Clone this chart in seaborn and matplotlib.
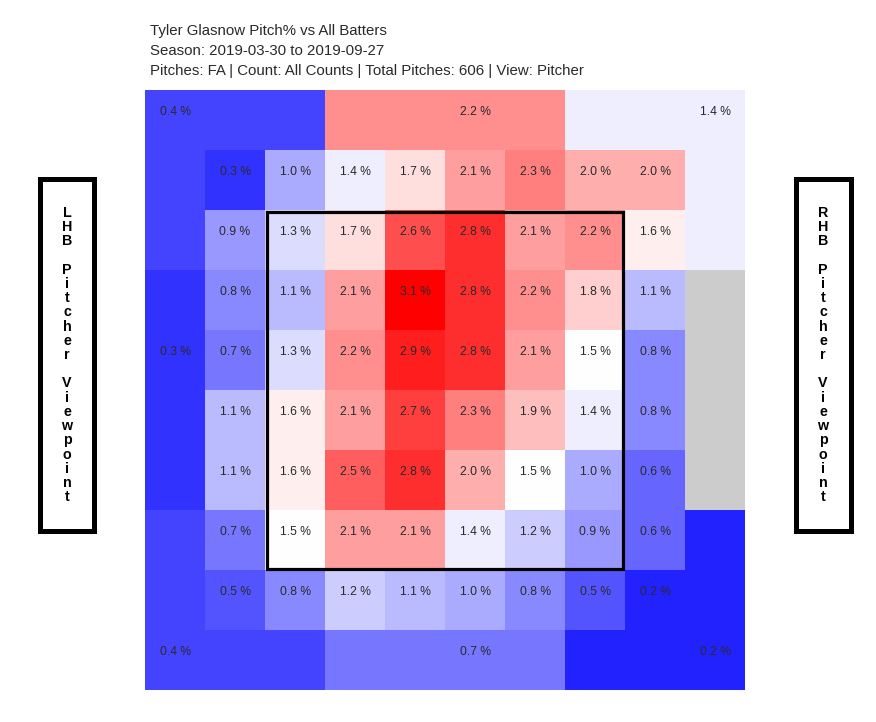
import numpy as np
import pandas as pd
import matplotlib
matplotlib.use("Agg")
import matplotlib.pyplot as plt
from matplotlib.colors import TwoSlopeNorm
from matplotlib.patches import Rectangle
import seaborn as sns

# pitch% per zone, inner 8x8 grid (top row first, pitcher view)
inner_pct = [
    [0.3, 1.0, 1.4, 1.7, 2.1, 2.3, 2.0, 2.0],
    [0.9, 1.3, 1.7, 2.6, 2.8, 2.1, 2.2, 1.6],
    [0.8, 1.1, 2.1, 3.1, 2.8, 2.2, 1.8, 1.1],
    [0.7, 1.3, 2.2, 2.9, 2.8, 2.1, 1.5, 0.8],
    [1.1, 1.6, 2.1, 2.7, 2.3, 1.9, 1.4, 0.8],
    [1.1, 1.6, 2.5, 2.8, 2.0, 1.5, 1.0, 0.6],
    [0.7, 1.5, 2.1, 2.1, 1.4, 1.2, 0.9, 0.6],
    [0.5, 0.8, 1.2, 1.1, 1.0, 0.8, 0.5, 0.2],
]

# the big outer zones (right middle has no value)
outer_names = ["top_left", "top_mid", "top_right", "left_mid",
               "right_mid", "bottom_left", "bottom_mid", "bottom_right"]
outer_pct = [0.4, 2.2, 1.4, 0.3, np.nan, 0.4, 0.7, 0.2]

title_lines = [
    "Tyler Glasnow Pitch% vs All Batters",
    "Season: 2019-03-30 to 2019-09-27",
    "Pitches: FA | Count: All Counts | Total Pitches: 606 | View: Pitcher",
]
left_side = "LHB Pitcher Viewpoint"
right_side = "RHB Pitcher Viewpoint"

outer = dict(zip(outer_names, outer_pct))

# build the 10x10 grid, outer zones fill the ring
grid = np.full((10, 10), np.nan)
grid[1:9, 1:9] = np.array(inner_pct)
grid[0, 0:3] = outer["top_left"]
grid[0:3, 0] = outer["top_left"]
grid[0, 3:7] = outer["top_mid"]
grid[0, 7:10] = outer["top_right"]
grid[0:3, 9] = outer["top_right"]
grid[3:7, 0] = outer["left_mid"]
grid[3:7, 9] = outer["right_mid"]
grid[7:10, 0] = outer["bottom_left"]
grid[9, 0:3] = outer["bottom_left"]
grid[9, 3:7] = outer["bottom_mid"]
grid[9, 7:10] = outer["bottom_right"]
grid[7:10, 9] = outer["bottom_right"]

labels = np.full((10, 10), "", dtype=object)
for r in range(8):
    for c in range(8):
        labels[r + 1, c + 1] = "{:.1f} %".format(inner_pct[r][c])
# where the outer zone labels sit
outer_label_cells = {"top_left": (0, 0), "top_mid": (0, 5), "top_right": (0, 9),
                     "left_mid": (4, 0), "bottom_left": (9, 0),
                     "bottom_mid": (9, 5), "bottom_right": (9, 9)}
for name, (r, c) in outer_label_cells.items():
    labels[r, c] = "{:.1f} %".format(outer[name])

df = pd.DataFrame(grid)

plt.rcParams["font.family"] = ["Liberation Sans", "DejaVu Sans"]
fig = plt.figure(figsize=(8.76, 7.22), dpi=100)
ax = fig.add_axes([145 / 876, 32 / 722, 600 / 876, 600 / 722])
ax.set_facecolor("#cccccc")

norm = TwoSlopeNorm(vmin=0, vcenter=1.5, vmax=3.1)
sns.heatmap(df, ax=ax, cmap="bwr", norm=norm, annot=labels, fmt="",
            cbar=False, xticklabels=False, yticklabels=False,
            annot_kws={"fontsize": 8.7, "color": "#2a2a2a"})

# labels sit a bit above the cell centre
for t in ax.texts:
    x, y = t.get_position()
    t.set_position((x, y - 0.14))

# strike zone
ax.add_patch(Rectangle((2.03, 2.03), 5.93, 5.95, fill=False,
                       edgecolor="black", linewidth=2.3, zorder=5))

for i, line in enumerate(title_lines):
    fig.text(150 / 876, 1 - (31 + 20 * i) / 722, line, fontsize=10.8,
             color="#2a2a2a", va="center", ha="left")

# side boxes
for x0, txt in [(39.5, left_side), (795.5, right_side)]:
    fig.patches.append(Rectangle((x0 / 876, 191.5 / 722), 55 / 876, 351 / 722,
                                 transform=fig.transFigure, fill=False,
                                 edgecolor="black", linewidth=3.6))
    fig.text((x0 + 27.5) / 876, 1 - 355 / 722, "\n".join(list(txt)),
             fontsize=10.3, fontweight="bold", ha="center", va="center",
             linespacing=1.02, color="black")

fig.savefig("out.png", dpi=100)
